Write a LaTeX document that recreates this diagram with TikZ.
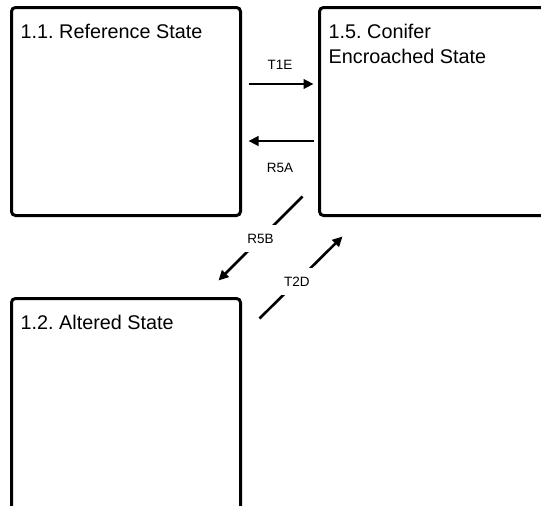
\documentclass[tikz,border=0pt]{standalone}
\usepackage{fontspec}
\setmainfont{Liberation Sans}
\usepackage{tikz}
\usetikzlibrary{arrows.meta, positioning}
\frenchspacing
\tikzstyle{statebox} = [draw=black, line width=3pt, rounded corners=4pt, fill=white, inner sep=0pt]
\tikzstyle{transition} = [line width=2.6pt, -{Triangle[length=10pt, width=9.5pt]}]

\begin{document}
\begin{tikzpicture}[x=1pt, y=1pt, title/.style={anchor=north west, inner sep=0pt, align=left, font=\fontsize{19.8}{25}\selectfont, xshift=10.5pt, yshift=-18pt}, lbl/.style={fill=white, inner xsep=3pt, inner ysep=8.5pt, font=\fontsize{13.5}{16}\selectfont}]
    \useasboundingbox (0,0) rectangle (541,-506);
    \clip (0,0) rectangle (541,-506);
    \node[statebox, minimum width=229pt, minimum height=208pt, label={[title]north west:1.1. Reference State}] (ref) at (126,-111.5) {};
    \node[statebox, minimum width=240.5pt, minimum height=208pt, label={[title]north west:1.5. Conifer\\Encroached State}] (con) at (439.75,-111.5) {};
    \node[statebox, minimum width=229pt, minimum height=231.5pt, label={[title]north west:1.2. Altered State}] (alt) at (126,-414.25) {};
    % transitions and restorations
    \draw[transition, shorten <=6.5pt, shorten >=4.5pt] ([yshift=27.5pt]ref.east) -- node[lbl, yshift=19pt] {T1E} ([yshift=27.5pt]con.west);
    \draw[transition, shorten <=4.5pt, shorten >=6.5pt] ([yshift=-29.5pt]con.west) -- node[lbl, yshift=-27pt] {R5A} ([yshift=-29.5pt]ref.east);
    \draw[transition] ([shift={(-15.5,20.5)}]con.south west) -- node[lbl] {R5B} ([shift={(-23.5,16.5)}]alt.north east);
    \draw[transition] ([shift={(17.5,-21.5)}]alt.north east) -- node[lbl, pos=0.45] {T2D} ([shift={(24.5,-19.5)}]con.south west);
\end{tikzpicture}
\end{document}
